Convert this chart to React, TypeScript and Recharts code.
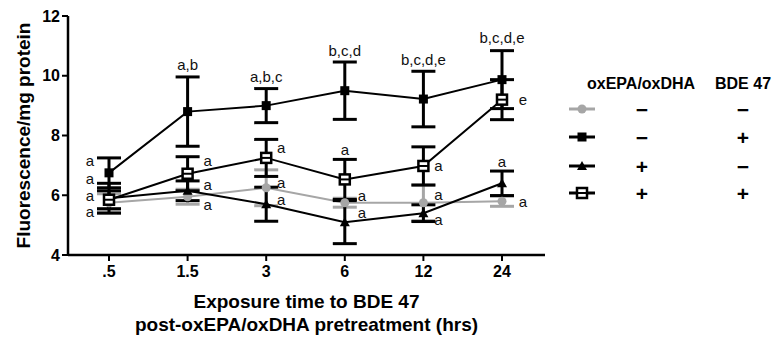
import React from "react";
import { LineChart, Line, XAxis, YAxis, ErrorBar, LabelList, Label } from "recharts";

// time points (hrs) after pretreatment
const hours = [".5", "1.5", "3", "6", "12", "24"];
const yTicks = [4, 6, 8, 10, 12];

// oxEPA/oxDHA - , BDE 47 -
const ctrlMean = [5.75, 5.95, 6.25, 5.75, 5.75, 5.8];
const ctrlErr = [0.3, 0.25, 0.6, 0.15, 0.6, 0.17];
// oxEPA/oxDHA - , BDE 47 +
const bdeMean = [6.75, 8.8, 9.0, 9.5, 9.22, 9.87];
const bdeErr = [0.5, 1.16, 0.57, 0.96, 0.93, 0.97];
// oxEPA/oxDHA + , BDE 47 -
const oxMean = [5.9, 6.15, 5.7, 5.1, 5.4, 6.4];
const oxErr = [0.5, 0.33, 0.57, 0.72, 0.28, 0.41];
// oxEPA/oxDHA + , BDE 47 +
const oxBdeMean = [5.85, 6.72, 7.25, 6.53, 6.98, 9.2];
const oxBdeErr = [0.3, 0.57, 0.62, 0.67, 0.64, 0.67];

// significance letters
const ctrlLetters = ["a", "a", "a", "a", "a", "a"];
const bdeLetters = ["a", "a,b", "a,b,c", "b,c,d", "b,c,d,e", "b,c,d,e"];
const oxLetters = ["a", "a", "a", "a", "a", "a"];
const oxBdeLetters = ["a", "a", "a", "a", "a", "e"];

// where each letter sits: [above error bar?, dx, dy]
type Place = [boolean, number, number];
const ctrlPlace: Place[] = [[false, -19, 9], [false, 20, 8], [false, 15, -5], [false, 17, -7], [false, 15, -8], [false, 21, 0]];
const bdePlace: Place[] = [[false, -19, -12], [true, 0, -12], [true, 0, -12], [true, 0, -12], [true, 0, -12], [true, 0, -13]];
const oxPlace: Place[] = [[false, -19, -20], [false, 20, -6], [false, 15, -5], [false, 17, -10], [false, 15, 6], [true, 0, -10]];
const oxBdePlace: Place[] = [[false, -19, -4], [false, 20, -13], [false, 15, -10], [true, 0, -10], [false, 15, 0], [false, 21, 0]];

const FONT = "'Liberation Sans', Arial, Helvetica, sans-serif";
const GRAY = "#a6a6a6";

const series = [
  { key: "ctrl", mean: ctrlMean, err: ctrlErr, letters: ctrlLetters, place: ctrlPlace },
  { key: "ox", mean: oxMean, err: oxErr, letters: oxLetters, place: oxPlace },
  { key: "oxBde", mean: oxBdeMean, err: oxBdeErr, letters: oxBdeLetters, place: oxBdePlace },
  { key: "bde", mean: bdeMean, err: bdeErr, letters: bdeLetters, place: bdePlace },
];

const data = hours.map((h, i) => {
  const row: Record<string, number | string> = { hour: h };
  series.forEach((s) => {
    row[s.key] = s.mean[i];
    row[s.key + "Err"] = s.err[i];
    row[s.key + "Anchor"] = s.place[i][0] ? s.mean[i] + s.err[i] : s.mean[i];
  });
  return row;
});

const grayDot = (p: any) => <circle key={p.index} cx={p.cx} cy={p.cy} r={4.5} fill={GRAY} />;
const squareDot = (p: any) => (
  <rect key={p.index} x={p.cx - 4.5} y={p.cy - 4.5} width={9} height={9} fill="#000" />
);
const triangleDot = (p: any) => (
  <polygon
    key={p.index}
    points={`${p.cx},${p.cy - 5} ${p.cx - 5},${p.cy + 4} ${p.cx + 5},${p.cy + 4}`}
    fill="#000"
  />
);
const openSquareDot = (p: any) => (
  <g key={p.index}>
    <rect x={p.cx - 5} y={p.cy - 5} width={10} height={10} fill="#fff" stroke="#000" strokeWidth={2.5} />
    <line x1={p.cx - 5} x2={p.cx + 5} y1={p.cy} y2={p.cy} stroke="#000" strokeWidth={2} />
  </g>
);

const letterContent = (letters: string[], place: Place[]) => (p: any) => {
  const i = p.index;
  const [, dx, dy] = place[i];
  return (
    <text
      x={p.x + dx}
      y={p.y + dy}
      textAnchor="middle"
      dominantBaseline="central"
      fontSize={15}
      fontFamily={FONT}
      fill="#111"
    >
      {letters[i]}
    </text>
  );
};

const YTitle = (props: any) => {
  const vb = props.viewBox;
  const cy = vb.y + vb.height / 2;
  return (
    <text
      x={23}
      y={cy}
      transform={`rotate(-90 23 ${cy})`}
      textAnchor="middle"
      dominantBaseline="central"
      fontSize={19}
      fontWeight="bold"
      fontFamily={FONT}
      fill="#000"
    >
      Fluorescence/mg protein
    </text>
  );
};

const XTitle = (props: any) => {
  const vb = props.viewBox;
  const cx = vb.x + vb.width / 2;
  return (
    <g fontSize={19} fontWeight="bold" fontFamily={FONT} fill="#000">
      <text x={cx} y={vb.y + 53} textAnchor="middle">
        Exposure time to BDE 47
      </text>
      <text x={cx} y={vb.y + 76} textAnchor="middle">
        post-oxEPA/oxDHA pretreatment (hrs)
      </text>
    </g>
  );
};

const legendRows = [
  { sym: "gray", ox: "−", bde: "−" },
  { sym: "square", ox: "−", bde: "+" },
  { sym: "triangle", ox: "+", bde: "−" },
  { sym: "open", ox: "+", bde: "+" },
];
const legendY = [109, 137, 166, 193];

function LegendTable() {
  return (
    <svg
      width={775}
      height={339}
      style={{ position: "absolute", left: 0, top: 0, pointerEvents: "none" }}
    >
      <g fontFamily={FONT} fontWeight="bold" fontSize={16} fill="#000">
        <text x={587} y={89}>oxEPA/oxDHA</text>
        <text x={715} y={89}>BDE 47</text>
      </g>
      {legendRows.map((r, i) => {
        const y = legendY[i];
        const color = r.sym === "gray" ? GRAY : "#000";
        const p = { cx: 582, cy: y, index: i };
        return (
          <g key={i}>
            <line x1={569} x2={595} y1={y} y2={y} stroke={color} strokeWidth={3} />
            {r.sym === "gray" && grayDot(p)}
            {r.sym === "square" && squareDot(p)}
            {r.sym === "triangle" && triangleDot(p)}
            {r.sym === "open" && openSquareDot(p)}
            <g fontFamily={FONT} fontWeight="bold" fontSize={21} fill="#000" textAnchor="middle">
              <text x={642} y={y} dominantBaseline="central">{r.ox}</text>
              <text x={743} y={y} dominantBaseline="central">{r.bde}</text>
            </g>
          </g>
        );
      })}
    </svg>
  );
}

const dotFor: Record<string, any> = {
  ctrl: grayDot,
  bde: squareDot,
  ox: triangleDot,
  oxBde: openSquareDot,
};

export default function App() {
  return (
    <div style={{ position: "absolute", left: 0, top: 0, width: 775, height: 339, background: "#fff" }}>
      <LineChart width={775} height={339} data={data} margin={{ top: 16, right: 230, bottom: 0, left: 0 }}>
        <XAxis
          dataKey="hour"
          height={84}
          interval={0}
          padding={{ left: 41, right: 43 }}
          axisLine={{ stroke: "#000", strokeWidth: 2.5 }}
          tickLine={{ stroke: "#000", strokeWidth: 2 }}
          tickSize={6}
          tickMargin={5}
          tick={{ fontSize: 16, fontWeight: "bold", fill: "#000", fontFamily: FONT }}
        >
          <Label content={XTitle} />
        </XAxis>
        <YAxis
          type="number"
          width={68}
          domain={[4, 12]}
          ticks={yTicks}
          interval={0}
          axisLine={{ stroke: "#000", strokeWidth: 2.5 }}
          tickLine={{ stroke: "#000", strokeWidth: 2 }}
          tickSize={6}
          tickMargin={2}
          tick={{ fontSize: 16, fontWeight: "bold", fill: "#000", fontFamily: FONT }}
        >
          <Label content={YTitle} />
        </YAxis>
        {series.map((s) => (
          <Line
            key={s.key}
            dataKey={s.key}
            type="linear"
            stroke={s.key === "ctrl" ? GRAY : "#000"}
            strokeWidth={2}
            dot={dotFor[s.key]}
            activeDot={false}
            isAnimationActive={false}
          >
            <ErrorBar
              dataKey={s.key + "Err"}
              direction="y"
              width={12}
              strokeWidth={3}
              stroke={s.key === "ctrl" ? GRAY : "#000"}
              isAnimationActive={false}
            />
          </Line>
        ))}
        {series.map((s) => (
          <Line
            key={s.key + "Anchor"}
            dataKey={s.key + "Anchor"}
            stroke="none"
            dot={false}
            activeDot={false}
            legendType="none"
            isAnimationActive={false}
          >
            <LabelList dataKey={s.key + "Anchor"} content={letterContent(s.letters, s.place)} />
          </Line>
        ))}
      </LineChart>
      <LegendTable />
    </div>
  );
}
